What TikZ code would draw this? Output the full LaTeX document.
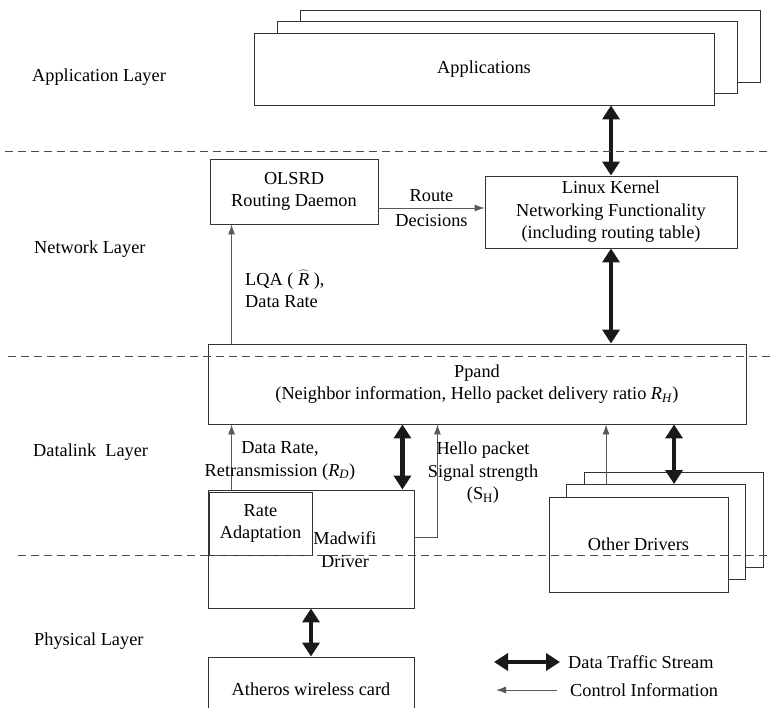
\documentclass[tikz,border=0pt]{standalone}
\usepackage{fontspec}
\setmainfont{Liberation Serif}
\usetikzlibrary{arrows.meta,positioning,calc}
\tikzset{
block/.style = {draw=black!80, fill=white, rectangle, inner sep=0pt, align=center, line width=0.9pt},
txt/.style = {inner sep=0pt, align=center},
layer/.style = {anchor=west, inner sep=0pt},
sep/.style = {draw=black!70, dash pattern=on 8pt off 5pt, line width=0.8pt},
ctrl/.style = {draw=black!65, line width=0.9pt, -{Latex[length=10pt,width=7pt]}},
data/.style = {draw=black!90, line width=4.5pt, {Triangle[length=14pt,width=17pt]}-{Triangle[length=14pt,width=17pt]}},
tmp/.style = {coordinate}
}

\begin{document}
\begin{tikzpicture}[x=1pt, y=-1pt, font=\fontsize{18.3pt}{22.5pt}\selectfont]
  \useasboundingbox (0,0) rectangle (770,708);

  % application stack
  \node [block, minimum width=460pt, minimum height=72pt] (apps3)   at (530,46)    {};
  \node [block, minimum width=460pt, minimum height=72pt] (apps2)   at (507,57.5)  {};
  \node [block, minimum width=460pt, minimum height=72pt] (apps)    at (484,69)    {Applications};

  \node [block, minimum width=168pt, minimum height=65pt] (olsrd)   at (294,191.5) {OLSRD\\Routing Daemon};
  \node [block, minimum width=252pt, minimum height=72pt] (linux)   at (611,212)   {Linux Kernel\\Networking Functionality\\(including routing table)};
  \node [block, minimum width=538pt, minimum height=80pt] (ppand)   at (477,384)   {Ppand\\(Neighbor information, Hello packet delivery ratio \textit{R}\textsubscript{\textit{H}})};

  \node [block, minimum width=206pt, minimum height=118pt] (madwifi) at (311,549)  {};
  \node [block, minimum width=103pt, minimum height=63pt] (rate)    at (260.5,523.5) {Rate\\Adaptation};
  \node [txt]                                              (madtxt)  at (345,549.5) {Madwifi\\Driver};

  % other drivers stack
  \node [block, minimum width=179pt, minimum height=95pt] (drv3)    at (673.5,519.5) {};
  \node [block, minimum width=179pt, minimum height=95pt] (drv2)    at (656,532)   {};
  \node [block, minimum width=179pt, minimum height=95pt] (drv)     at (638.5,544.5) {Other Drivers};

  \node [block, minimum width=206pt, minimum height=64pt] (atheros) at (311,689)   {Atheros wireless card};

  % layer names
  \node [layer] (applayer)  at (32,77)  {Application Layer};
  \node [layer] (netlayer)  at (34,249) {Network Layer};
  \node [layer] (dllayer)   at (33,452) {Datalink\ \ Layer};
  \node [layer] (phylayer)  at (34,641) {Physical Layer};

  % data traffic
  \draw [data] (linux.north) -- (linux.north |- apps.south);
  \draw [data] (linux.south) -- (linux.south |- ppand.north);
  \draw [data] ([xshift=-12pt]madwifi.north east) -- ([xshift=-12pt]madwifi.north east |- ppand.south);
  \draw [data] ([xshift=108pt]drv2.north west) -- ([xshift=108pt]drv2.north west |- ppand.south);
  \draw [data] (madwifi.south) -- (atheros.north);

  % control information
  \draw [ctrl] ([yshift=-16.5pt]olsrd.east) -- node [txt] (routelbl) {Route\\[2pt]Decisions} ([yshift=-16.5pt]olsrd.east -| linux.west);
  \draw [ctrl] ([xshift=22pt]olsrd.south west |- ppand.north) -- ([xshift=22pt]olsrd.south west);
  \draw [ctrl] ([xshift=24pt]madwifi.north west) -- ([xshift=24pt]madwifi.north west |- ppand.south);
  \draw [ctrl] ([yshift=12pt]madwifi.east) -| ([xshift=23pt]madwifi.east |- ppand.south);
  \draw [ctrl] ([xshift=40pt]drv2.north west) -- ([xshift=40pt]drv2.north west |- ppand.south);

  \node [txt, align=left, anchor=west] (lqalbl) at (245,289) {LQA ( $\widehat{\mbox{\textit{R}}}$ ),\\Data Rate};
  \node [txt] (ratelbl)  at (280,461) {Data Rate,\\Retransmission (\textit{R}\textsubscript{\textit{D}})};
  \node [txt] (hellolbl) at (483,473) {Hello packet\\Signal strength\\(S\textsubscript{H})};

  % layer borders
  \draw [sep] (5,151) -- (770,151);
  \draw [sep] (8,356) -- (770,356);
  \draw [sep] (18,555) -- (770,555);

  % legend
  \coordinate (lgdata) at (494,662);
  \node [layer] (legdata) at (568,662) {Data Traffic Stream};
  \draw [data] (lgdata) -- ([xshift=-8pt]legdata.west);
  \coordinate (lgctrl) at (496,690);
  \node [layer] (legctrl) at (570,690) {Control Information};
  \draw [ctrl] ([xshift=-13pt]legctrl.west) -- (lgctrl);
\end{tikzpicture}
\end{document}
